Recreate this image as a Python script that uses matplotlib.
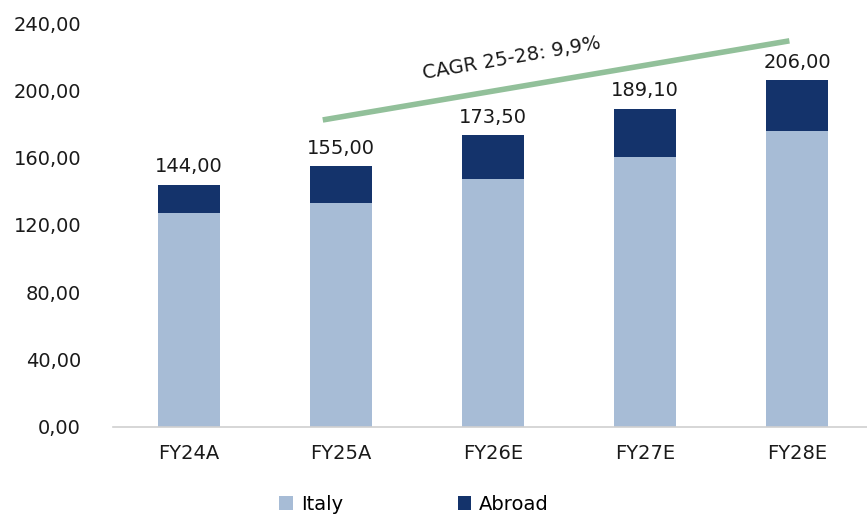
import matplotlib
matplotlib.use("Agg")
import matplotlib.pyplot as plt
import numpy as np

categories = ["FY24A", "FY25A", "FY26E", "FY27E", "FY28E"]
italy = [127.0, 133.0, 147.1, 160.4, 176.0]
totals = [144.00, 155.00, 173.50, 189.10, 206.00]
abroad = [t - i for t, i in zip(totals, italy)]
yticks = [0, 40, 80, 120, 160, 200, 240]
cagr_label = "CAGR 25-28: 9,9%"
cagr_x = [0.88, 3.95]
cagr_y = [182.4, 229.4]

plt.rcParams['font.family'] = ['DejaVu Sans']

fig = plt.figure(figsize=(8.67, 5.14), dpi=100)
ax = fig.add_axes([113/867, 87/514, 760/867, 404/514])

x = np.arange(len(categories))
c_it = "#a7bcd6"
c_ab = "#14336b"
fs = 14
ax.bar(x, italy, width=0.41, color=c_it, label="Italy")
ax.bar(x, abroad, width=0.41, bottom=italy, color=c_ab, label="Abroad")

for xi, t in zip(x, totals):
    ax.annotate(f"{t:.2f}".replace(".", ","), (xi, t), xytext=(0, 6),
                textcoords="offset points", ha="center", va="bottom",
                fontsize=fs, color="#1a1a1a")

ax.plot(cagr_x, cagr_y, color="#92c09a", lw=4, solid_capstyle="butt")
ax.text(2.12, 219.0, cagr_label, rotation=9.8, ha="center", va="center",
        fontsize=fs, color="#1a1a1a", rotation_mode="anchor")

ax.set_xlim(-0.5, 4.5)
ax.set_ylim(0, 240)
ax.set_yticks(yticks)
ax.set_yticklabels([f"{v:.2f}".replace(".", ",") for v in yticks])
ax.set_xticks(x)
ax.set_xticklabels(categories)
ax.tick_params(axis="both", length=0, labelsize=fs, colors="#1a1a1a")
ax.tick_params(axis="y", pad=23)
ax.tick_params(axis="x", pad=12)
for s in ["top", "right", "left"]:
    ax.spines[s].set_visible(False)
ax.spines["bottom"].set_color("#d0d0d0")
ax.spines["bottom"].set_linewidth(1.2)

fig.legend(loc="center", bbox_to_anchor=(414/867, 1 - 504/514), ncol=2,
           frameon=False, fontsize=fs, handlelength=0.7, handleheight=0.7,
           handletextpad=0.4, columnspacing=5.9)

fig.savefig("out.png", dpi=100)
